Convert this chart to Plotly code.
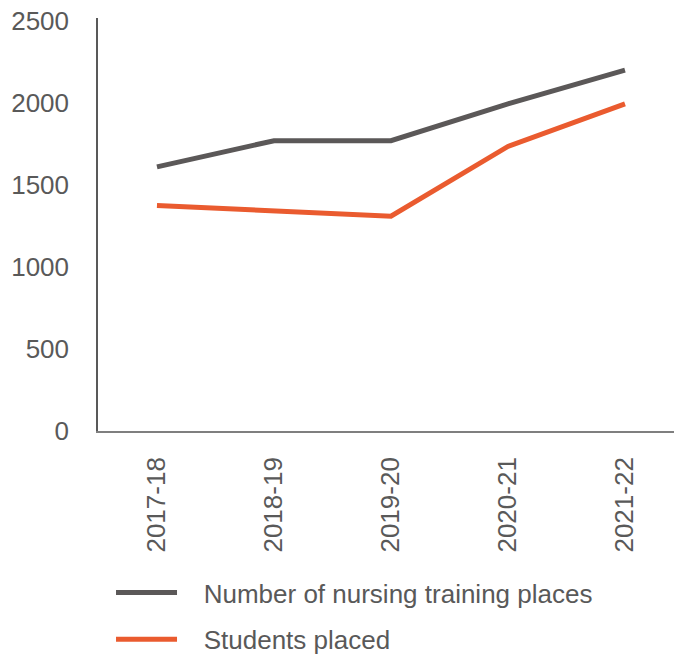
import plotly.graph_objects as go

# Academic years on the category axis
years = ["2017-18", "2018-19", "2019-20", "2020-21", "2021-22"]

# Series values
training_places = [1610, 1770, 1770, 1995, 2200]
students_placed = [1375, 1345, 1310, 1735, 1995]

# Y-axis tick values
y_ticks = [0, 500, 1000, 1500, 2000, 2500]

GREY = "#5B5858"
ORANGE = "#EA5B2F"
TEXT = "#595959"
FONT = "Liberation Sans, Arial, sans-serif"
PAD = "\u00a0\u00a0\u00a0"  # extra space between legend swatch and label

fig = go.Figure()
fig.add_trace(go.Scatter(
    x=years, y=training_places, mode="lines",
    name=PAD + "Number of nursing training places",
    line=dict(color=GREY, width=5),
    legendgroup="a",
))
fig.add_trace(go.Scatter(
    x=years, y=students_placed, mode="lines",
    name=PAD + "Students placed",
    line=dict(color=ORANGE, width=5),
    legendgroup="b",
))

fig.update_layout(
    width=674, height=654,
    margin=dict(l=98, r=0, t=18, b=223),
    paper_bgcolor="white", plot_bgcolor="white",
    font=dict(family=FONT, size=26, color=TEXT),
    showlegend=True,
    legend=dict(
        x=0.0226, xanchor="left",
        yref="container", y=0.13, yanchor="top",
        traceorder="grouped",
        tracegroupgap=10,
        itemwidth=61,
        font=dict(family=FONT, size=26, color=TEXT),
        bgcolor="rgba(0,0,0,0)",
    ),
)

fig.update_xaxes(
    type="category",
    range=[-0.504, 4.419],
    tickangle=-90,
    showgrid=False, zeroline=False,
    showline=True, linecolor="#7F7F7F", linewidth=1.5,
    ticks="", ticklabelstandoff=14,
    tickfont=dict(family=FONT, size=26, color=TEXT),
)
fig.update_yaxes(
    range=[0, 2518],
    tickvals=y_ticks,
    showgrid=False, zeroline=False,
    showline=True, linecolor="#595959", linewidth=1.5,
    ticks="", ticklabelstandoff=22,
    tickfont=dict(family=FONT, size=26, color=TEXT),
)

fig.write_html("out.html")
